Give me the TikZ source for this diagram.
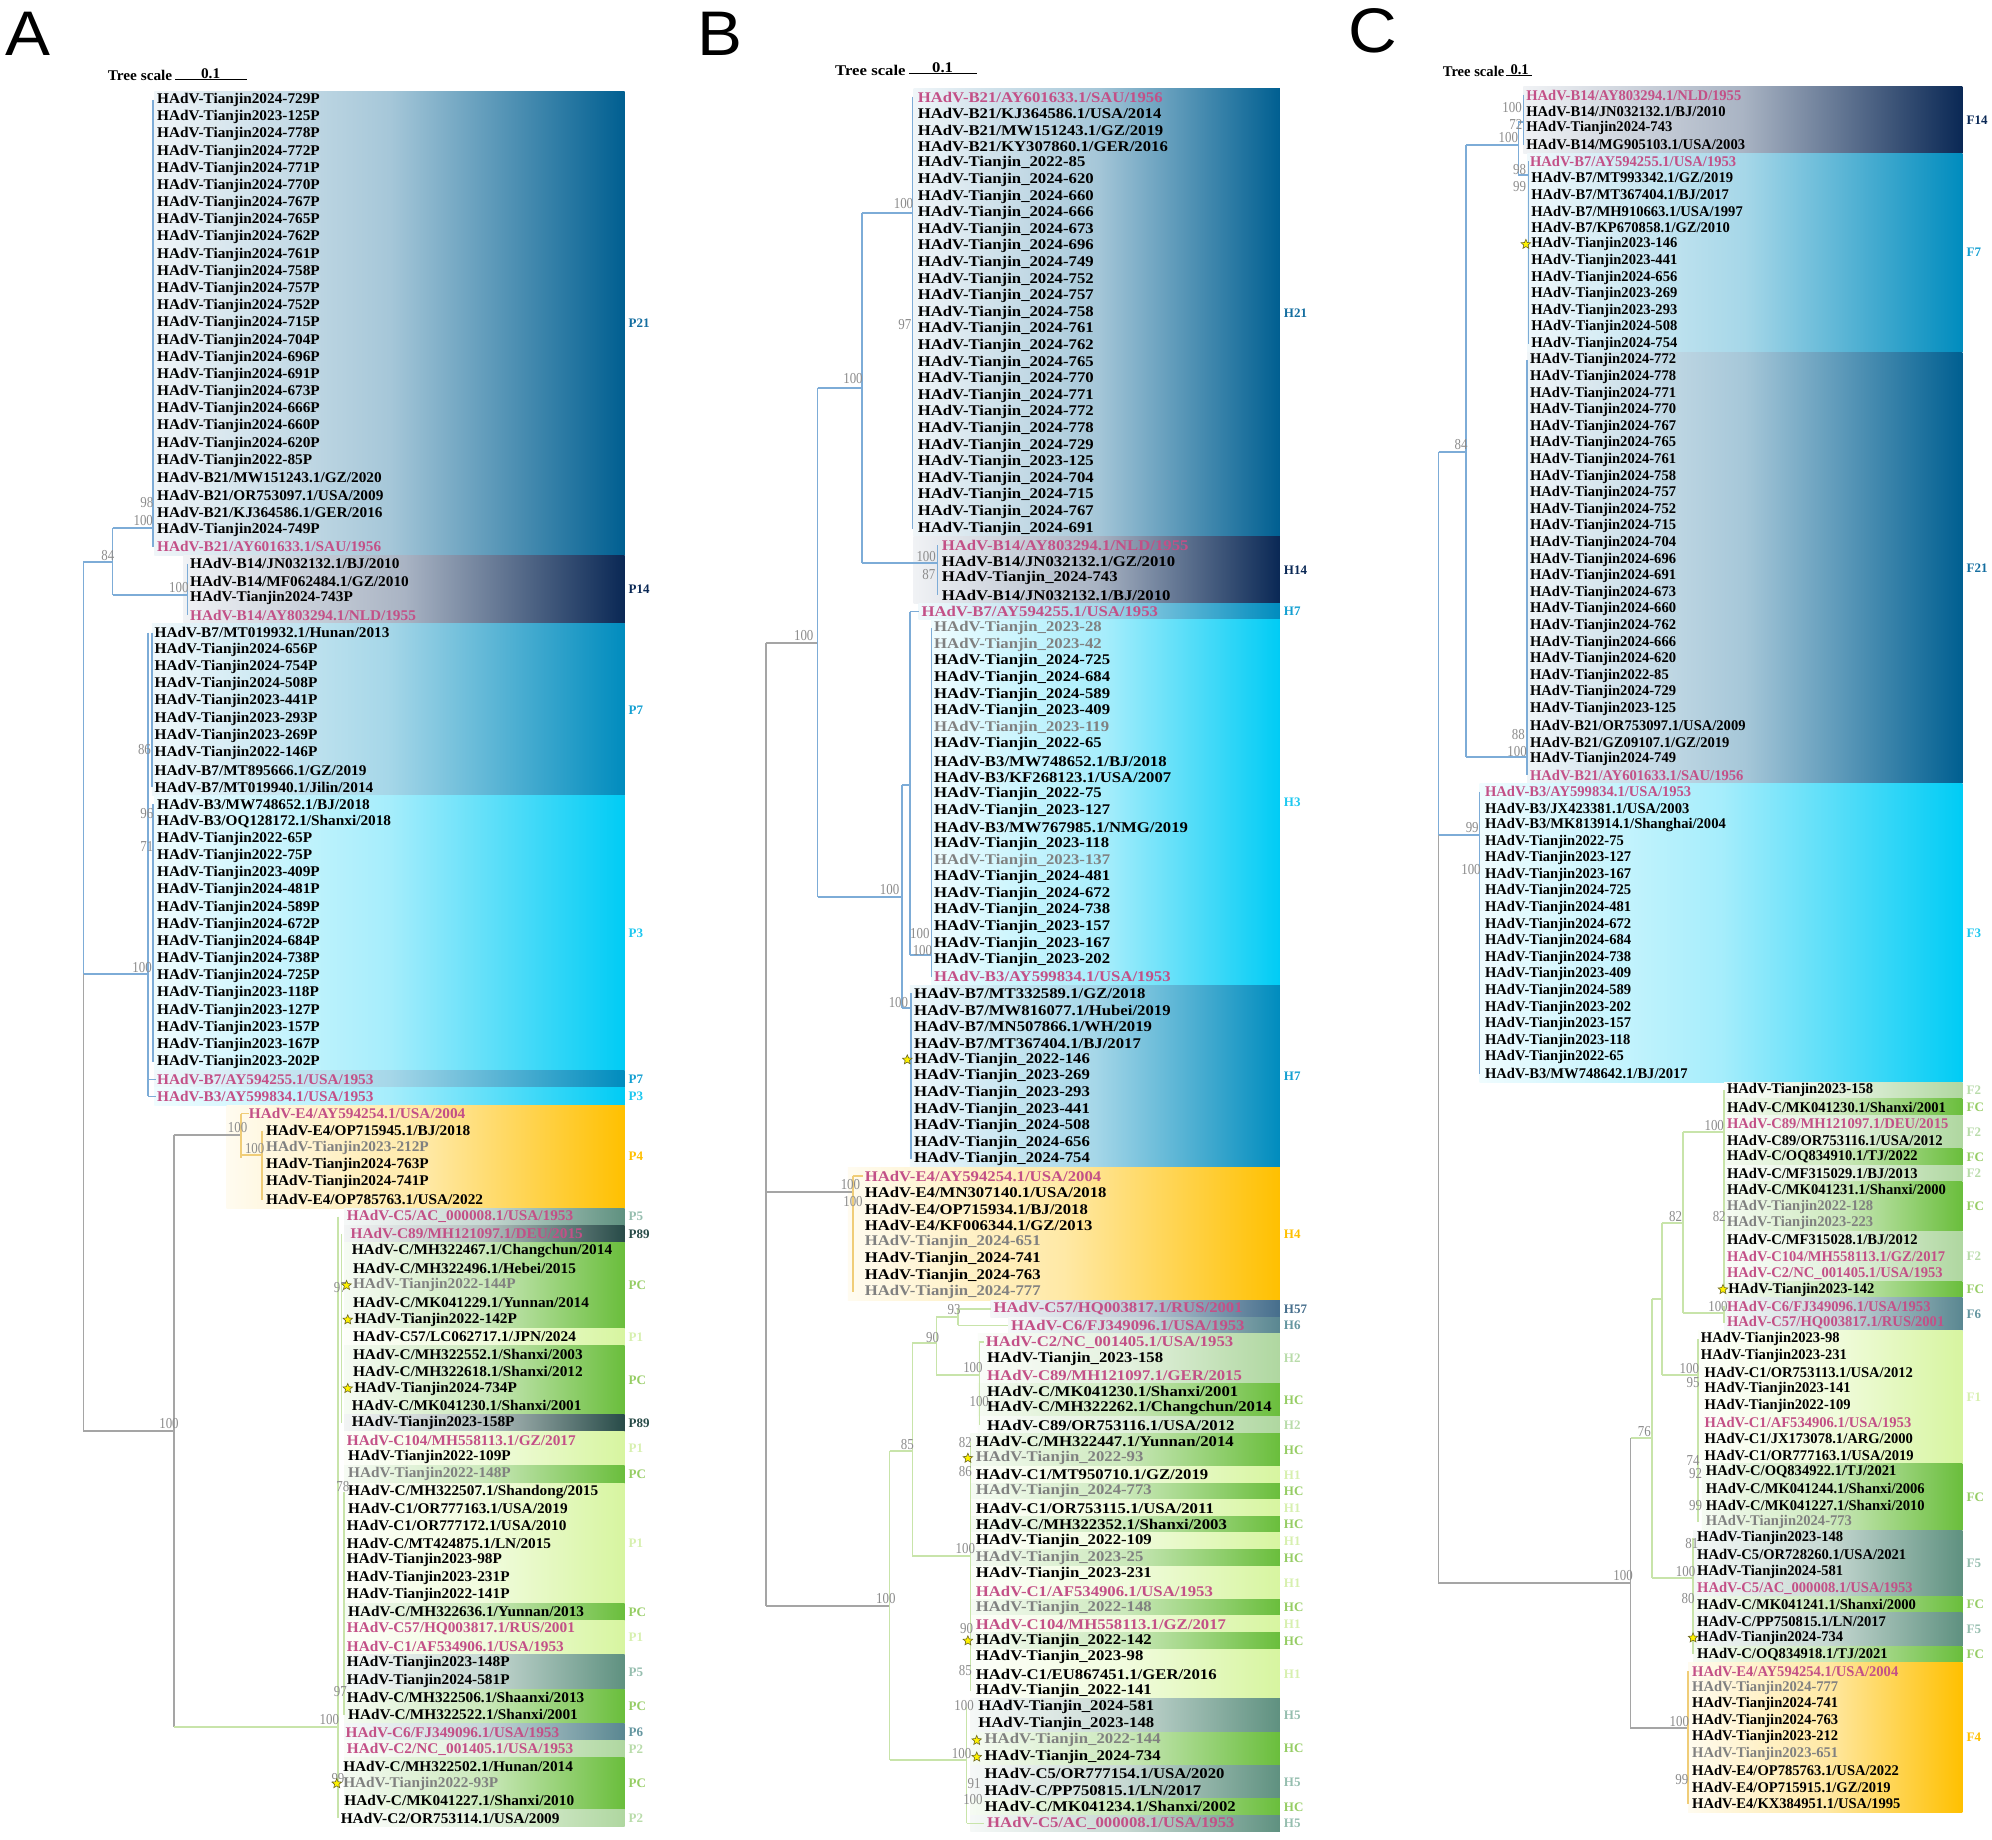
\documentclass[tikz,border=0pt]{standalone}
\usepackage{fontspec}
\setmainfont{Liberation Serif}
\newfontfamily\lfA{Liberation Serif}[FakeStretch=1.034]
\newfontfamily\lfB{Liberation Serif}[FakeStretch=1.13]
\newfontfamily\lfC{Liberation Serif}[FakeStretch=0.985]
\newfontfamily\bsfont{Liberation Serif}[FakeStretch=0.85]
\newfontfamily\grpfont{Liberation Serif}
\newfontfamily\panfont{Liberation Sans}[FakeStretch=1.07]
\usetikzlibrary{shapes.geometric}
\definecolor{cdk}{RGB}{0,95,145}
\definecolor{cnv}{RGB}{10,40,85}
\definecolor{cb7}{RGB}{0,140,190}
\definecolor{ccy}{RGB}{0,204,245}
\definecolor{cor}{RGB}{255,192,0}
\definecolor{cgr}{RGB}{106,190,60}
\definecolor{cpl}{RGB}{215,245,160}
\definecolor{cp5}{RGB}{95,145,128}
\definecolor{c89}{RGB}{40,75,72}
\definecolor{cp6}{RGB}{90,135,145}
\definecolor{cp2}{RGB}{175,215,160}
\definecolor{c57}{RGB}{70,110,140}
\definecolor{tdk}{RGB}{20,110,160}
\definecolor{tb7}{RGB}{20,160,210}
\definecolor{tcy}{RGB}{30,200,240}
\definecolor{tgr}{RGB}{150,205,100}
\definecolor{tpl}{RGB}{215,240,175}
\definecolor{tp5}{RGB}{150,190,175}
\definecolor{tp6}{RGB}{100,150,160}
\definecolor{tp2}{RGB}{185,220,170}
\definecolor{pkc}{RGB}{195,80,135}
\definecolor{gyc}{RGB}{128,128,128}
\definecolor{lblue}{RGB}{125,172,215}
\definecolor{lgray}{RGB}{165,165,165}
\definecolor{lgreen}{RGB}{200,228,170}
\definecolor{lorange}{RGB}{240,205,120}
\definecolor{bsgray}{RGB}{140,140,140}
\pgfmathdeclarefunction{ya}{1}{\pgfmathparse{100+17.18*(#1-1)}}
\pgfmathdeclarefunction{yb}{1}{\pgfmathparse{97+16.6*(#1-1)}}
\pgfmathdeclarefunction{yc}{1}{\pgfmathparse{95+16.59*(#1-1)}}
\newcommand\TA[4][]{\node[lbA,#1] (a#2) at (#3,{ya(#2)}) {#4};}
\newcommand\TB[4][]{\node[lbB,#1] (b#2) at (#3,{yb(#2)}) {#4};}
\newcommand\TC[4][]{\node[lbC,#1] (c#2) at (#3,{yc(#2)}) {#4};}
\newcommand\SA[6]{\shade[left color=#4!6,right color=#4,middle color=#4!35] (#1,{ya(#2)-8.59}) rectangle (510,{ya(#3)+8.59});
 \node[grp,text=#6] (gA#2) at (513,{(ya(#2)+ya(#3))/2}) {#5};}
\newcommand\SB[6]{\shade[left color=#4!6,right color=#4,middle color=#4!35] (#1,{yb(#2)-8.3}) rectangle (1155,{yb(#3)+8.3});
 \node[grp,text=#6] (gB#2) at (1158,{(yb(#2)+yb(#3))/2}) {#5};}
\newcommand\SC[6]{\shade[left color=#4!6,right color=#4,middle color=#4!35] (#1,{yc(#2)-8.3}) rectangle (1839,{yc(#3)+8.3});
 \node[grp,text=#6] (gC#2) at (1842,{(yc(#2)+yc(#3))/2}) {#5};}
\newcounter{bsn}
\newcommand\BS[3]{\stepcounter{bsn}\node[bs] (bs\thebsn) at (#1,#2) {#3};}
\newcounter{stn}
\newcommand\ST[2]{\stepcounter{stn}\node[starm] (st\thestn) at (#1,{#2}) {};}
\begin{document}
\begin{tikzpicture}[x=0.5pt,y=-0.5pt,
 lbA/.style={anchor=west,inner sep=0pt,font=\lfA\bfseries\fontsize{7.4}{8}\selectfont},
 lbB/.style={anchor=west,inner sep=0pt,font=\lfB\bfseries\fontsize{7.4}{8}\selectfont},
 lbC/.style={anchor=west,inner sep=0pt,font=\lfC\bfseries\fontsize{7.4}{8}\selectfont},
 rf/.style={text=pkc}, gt/.style={text=gyc},
 bs/.style={inner sep=0pt,text=bsgray,font=\bsfont\fontsize{7.6}{7.6}\selectfont},
 grp/.style={anchor=west,inner sep=0pt,font=\grpfont\bfseries\fontsize{6.5}{7}\selectfont},
 lnB/.style={line width=0.75pt,lblue}, lnG/.style={line width=0.75pt,lgray},
 lnN/.style={line width=0.75pt,lgreen}, lnO/.style={line width=0.75pt,lorange},
 starm/.style={star,star points=5,star point ratio=2.2,fill=yellow,draw=olive!70!black,line width=0.3pt,inner sep=0pt,minimum size=5pt},
 pan/.style={anchor=base west,inner sep=0pt,font=\panfont\fontsize{31.5}{32}\selectfont}]
\useasboundingbox (0,0) rectangle (1992,1840);
\fill[white] (0,0) rectangle (1992,1840);
% ======================= PANEL A
\begin{scope}[xscale=1.2245]
\SA{126}{1}{27}{cdk}{P21}{tdk}
\SA{150}{28}{31}{cnv}{P14}{cnv}
\SA{124}{32}{41}{cb7}{P7}{tb7}
\SA{126}{42}{57}{ccy}{P3}{tcy}
\SA{126}{58}{58}{cb7}{P7}{tb7}
\SA{126}{59}{59}{ccy}{P3}{tcy}
\SA{185}{60}{65}{cor}{P4}{cor}
\SA{281}{66}{66}{cp5}{P5}{tp5}
\SA{281}{67}{67}{c89}{P89}{c89}
\SA{281}{68}{72}{cgr}{PC}{tgr}
\SA{281}{73}{73}{cpl}{P1}{tpl}
\SA{281}{74}{77}{cgr}{PC}{tgr}
\SA{281}{78}{78}{c89}{P89}{c89}
\SA{281}{79}{80}{cpl}{P1}{tpl}
\SA{281}{81}{81}{cgr}{PC}{tgr}
\SA{281}{82}{88}{cpl}{P1}{tpl}
\SA{281}{89}{89}{cgr}{PC}{tgr}
\SA{281}{90}{91}{cpl}{P1}{tpl}
\SA{281}{92}{93}{cp5}{P5}{tp5}
\SA{281}{94}{95}{cgr}{PC}{tgr}
\SA{281}{96}{96}{cp6}{P6}{tp6}
\SA{281}{97}{97}{cp2}{P2}{tp2}
\SA{281}{98}{100}{cgr}{PC}{tgr}
\SA{281}{101}{101}{cp2}{P2}{tp2}
\draw[lnB] (68,562)--(68,974) (68,562)--(92,562) (92,528)--(92,595) (92,528)--(125,528) (125,{ya(1)})--(125,{ya(27)}) (92,595)--(153,595) (153,{ya(28)})--(153,{ya(31)});
\draw[lnB] (68,974)--(121,974) (121,{ya(32)})--(121,{ya(59)}) (121,{ya(58)})--(127,{ya(58)}) (121,{ya(59)})--(127,{ya(59)}) (124,{ya(32)})--(124,{ya(41)}) (125,{ya(42)})--(125,{ya(57)});
\draw[lnG] (68,974)--(68,1431)--(142,1431) (142,1135)--(142,1727) (142,1135)--(197,1135);
\draw[lnO] (197,{ya(60)})--(197,1158) (197,{ya(60)})--(203,{ya(60)}) (197,1155)--(214,1155) (214,{ya(61)})--(214,{ya(65)});
\draw[lnN] (142,1727)--(276,1727) (276,{ya(66)})--(276,{ya(101)}) (279,{ya(67)})--(279,{ya(78)}) (281,{ya(82)})--(281,{ya(95)});
\BS{88}{556}{84}\BS{120}{503}{98}\BS{117}{521}{100}\BS{146}{588}{100}\BS{118}{750}{86}
\BS{120}{814}{96}\BS{120}{846}{71}\BS{116}{968}{100}\BS{194}{1128}{100}\BS{208}{1149}{100}
\BS{278}{1288}{97}\BS{138}{1424}{100}\BS{280}{1487}{78}\BS{278}{1692}{97}\BS{269}{1720}{100}\BS{276}{1779}{99}
\ST{283}{ya(70)}\ST{284}{ya(72)}\ST{284}{ya(76)}\ST{275}{ya(99)}
\TA{1}{128}{HAdV-Tianjin2024-729P}
\TA{2}{128}{HAdV-Tianjin2023-125P}
\TA{3}{128}{HAdV-Tianjin2024-778P}
\TA{4}{128}{HAdV-Tianjin2024-772P}
\TA{5}{128}{HAdV-Tianjin2024-771P}
\TA{6}{128}{HAdV-Tianjin2024-770P}
\TA{7}{128}{HAdV-Tianjin2024-767P}
\TA{8}{128}{HAdV-Tianjin2024-765P}
\TA{9}{128}{HAdV-Tianjin2024-762P}
\TA{10}{128}{HAdV-Tianjin2024-761P}
\TA{11}{128}{HAdV-Tianjin2024-758P}
\TA{12}{128}{HAdV-Tianjin2024-757P}
\TA{13}{128}{HAdV-Tianjin2024-752P}
\TA{14}{128}{HAdV-Tianjin2024-715P}
\TA{15}{128}{HAdV-Tianjin2024-704P}
\TA{16}{128}{HAdV-Tianjin2024-696P}
\TA{17}{128}{HAdV-Tianjin2024-691P}
\TA{18}{128}{HAdV-Tianjin2024-673P}
\TA{19}{128}{HAdV-Tianjin2024-666P}
\TA{20}{128}{HAdV-Tianjin2024-660P}
\TA{21}{128}{HAdV-Tianjin2024-620P}
\TA{22}{128}{HAdV-Tianjin2022-85P}
\TA{23}{128}{HAdV-B21/MW151243.1/GZ/2020}
\TA{24}{128}{HAdV-B21/OR753097.1/USA/2009}
\TA{25}{128}{HAdV-B21/KJ364586.1/GER/2016}
\TA{26}{128}{HAdV-Tianjin2024-749P}
\TA[rf]{27}{128}{HAdV-B21/AY601633.1/SAU/1956}
\TA{28}{155}{HAdV-B14/JN032132.1/BJ/2010}
\TA{29}{155}{HAdV-B14/MF062484.1/GZ/2010}
\TA{30}{155}{HAdV-Tianjin2024-743P}
\TA[rf]{31}{155}{HAdV-B14/AY803294.1/NLD/1955}
\TA{32}{126}{HAdV-B7/MT019932.1/Hunan/2013}
\TA{33}{126}{HAdV-Tianjin2024-656P}
\TA{34}{126}{HAdV-Tianjin2024-754P}
\TA{35}{126}{HAdV-Tianjin2024-508P}
\TA{36}{126}{HAdV-Tianjin2023-441P}
\TA{37}{126}{HAdV-Tianjin2023-293P}
\TA{38}{126}{HAdV-Tianjin2023-269P}
\TA{39}{126}{HAdV-Tianjin2022-146P}
\TA{40}{126}{HAdV-B7/MT895666.1/GZ/2019}
\TA{41}{126}{HAdV-B7/MT019940.1/Jilin/2014}
\TA{42}{128}{HAdV-B3/MW748652.1/BJ/2018}
\TA{43}{128}{HAdV-B3/OQ128172.1/Shanxi/2018}
\TA{44}{128}{HAdV-Tianjin2022-65P}
\TA{45}{128}{HAdV-Tianjin2022-75P}
\TA{46}{128}{HAdV-Tianjin2023-409P}
\TA{47}{128}{HAdV-Tianjin2024-481P}
\TA{48}{128}{HAdV-Tianjin2024-589P}
\TA{49}{128}{HAdV-Tianjin2024-672P}
\TA{50}{128}{HAdV-Tianjin2024-684P}
\TA{51}{128}{HAdV-Tianjin2024-738P}
\TA{52}{128}{HAdV-Tianjin2024-725P}
\TA{53}{128}{HAdV-Tianjin2023-118P}
\TA{54}{128}{HAdV-Tianjin2023-127P}
\TA{55}{128}{HAdV-Tianjin2023-157P}
\TA{56}{128}{HAdV-Tianjin2023-167P}
\TA{57}{128}{HAdV-Tianjin2023-202P}
\TA[rf]{58}{128}{HAdV-B7/AY594255.1/USA/1953}
\TA[rf]{59}{128}{HAdV-B3/AY599834.1/USA/1953}
\TA[rf]{60}{203}{HAdV-E4/AY594254.1/USA/2004}
\TA{61}{217}{HAdV-E4/OP715945.1/BJ/2018}
\TA[gt]{62}{217}{HAdV-Tianjin2023-212P}
\TA{63}{217}{HAdV-Tianjin2024-763P}
\TA{64}{217}{HAdV-Tianjin2024-741P}
\TA{65}{217}{HAdV-E4/OP785763.1/USA/2022}
\TA[rf]{66}{283}{HAdV-C5/AC\_000008.1/USA/1953}
\TA[rf]{67}{286}{HAdV-C89/MH121097.1/DEU/2015}
\TA{68}{287}{HAdV-C/MH322467.1/Changchun/2014}
\TA{69}{288}{HAdV-C/MH322496.1/Hebei/2015}
\TA[gt]{70}{288}{HAdV-Tianjin2022-144P}
\TA{71}{288}{HAdV-C/MK041229.1/Yunnan/2014}
\TA{72}{289}{HAdV-Tianjin2022-142P}
\TA{73}{288}{HAdV-C57/LC062717.1/JPN/2024}
\TA{74}{288}{HAdV-C/MH322552.1/Shanxi/2003}
\TA{75}{288}{HAdV-C/MH322618.1/Shanxi/2012}
\TA{76}{289}{HAdV-Tianjin2024-734P}
\TA{77}{287}{HAdV-C/MK041230.1/Shanxi/2001}
\TA{78}{287}{HAdV-Tianjin2023-158P}
\TA[rf]{79}{283}{HAdV-C104/MH558113.1/GZ/2017}
\TA{80}{284}{HAdV-Tianjin2022-109P}
\TA[gt]{81}{284}{HAdV-Tianjin2022-148P}
\TA{82}{284}{HAdV-C/MH322507.1/Shandong/2015}
\TA{83}{284}{HAdV-C1/OR777163.1/USA/2019}
\TA{84}{283}{HAdV-C1/OR777172.1/USA/2010}
\TA{85}{283}{HAdV-C/MT424875.1/LN/2015}
\TA{86}{283}{HAdV-Tianjin2023-98P}
\TA{87}{283}{HAdV-Tianjin2023-231P}
\TA{88}{283}{HAdV-Tianjin2022-141P}
\TA{89}{284}{HAdV-C/MH322636.1/Yunnan/2013}
\TA[rf]{90}{283}{HAdV-C57/HQ003817.1/RUS/2001}
\TA[rf]{91}{283}{HAdV-C1/AF534906.1/USA/1953}
\TA{92}{283}{HAdV-Tianjin2023-148P}
\TA{93}{283}{HAdV-Tianjin2024-581P}
\TA{94}{283}{HAdV-C/MH322506.1/Shaanxi/2013}
\TA{95}{284}{HAdV-C/MH322522.1/Shanxi/2001}
\TA[rf]{96}{282}{HAdV-C6/FJ349096.1/USA/1953}
\TA[rf]{97}{283}{HAdV-C2/NC\_001405.1/USA/1953}
\TA{98}{280}{HAdV-C/MH322502.1/Hunan/2014}
\TA[gt]{99}{280}{HAdV-Tianjin2022-93P}
\TA{100}{281}{HAdV-C/MK041227.1/Shanxi/2010}
\TA{101}{278}{HAdV-C2/OR753114.1/USA/2009}
\node[lbA,anchor=east] (tsA) at (141,75) {Tree scale};
\node[lbA,anchor=south] (tsA1) at (172,79) {0.1};
\draw[black,line width=0.5pt] (tsA.east)++(2,5) coordinate (sA0) -- (202,80) coordinate (sA1);
\end{scope}
% ======================= PANEL B
\begin{scope}[xshift=-89.28pt,xscale=1.2626]
\SB{865}{1}{27}{cdk}{H21}{tdk}
\SB{865}{28}{31}{cnv}{H14}{cnv}
\SB{869}{32}{32}{cb7}{H7}{tb7}
\SB{879}{33}{54}{ccy}{H3}{tcy}
\SB{862}{55}{65}{cb7}{H7}{tb7}
\SB{813}{66}{73}{cor}{H4}{cor}
\SB{926}{74}{74}{c57}{H57}{c57}
\SB{940}{75}{75}{cp6}{H6}{tp6}
\SB{916}{76}{78}{cp2}{H2}{tp2}
\SB{916}{79}{80}{cgr}{HC}{tgr}
\SB{916}{81}{81}{cp2}{H2}{tp2}
\SB{910}{82}{83}{cgr}{HC}{tgr}
\SB{910}{84}{84}{cpl}{H1}{tpl}
\SB{910}{85}{85}{cgr}{HC}{tgr}
\SB{910}{86}{86}{cpl}{H1}{tpl}
\SB{910}{87}{87}{cgr}{HC}{tgr}
\SB{910}{88}{88}{cpl}{H1}{tpl}
\SB{910}{89}{89}{cgr}{HC}{tgr}
\SB{910}{90}{91}{cpl}{H1}{tpl}
\SB{910}{92}{92}{cgr}{HC}{tgr}
\SB{910}{93}{93}{cpl}{H1}{tpl}
\SB{910}{94}{94}{cgr}{HC}{tgr}
\SB{910}{95}{97}{cpl}{H1}{tpl}
\SB{910}{98}{99}{cp5}{H5}{tp5}
\SB{910}{100}{101}{cgr}{HC}{tgr}
\SB{910}{102}{103}{cp5}{H5}{tp5}
\SB{910}{104}{104}{cgr}{HC}{tgr}
\SB{910}{105}{105}{cp5}{H5}{tp5}
\draw[lnG] (748,643)--(748,1606) (748,643)--(789,643) (748,1192)--(817,1192) (748,1606)--(846,1606);
\draw[lnB] (789,388)--(789,897) (789,388)--(824,388) (824,213)--(824,563) (824,213)--(864,213) (864,{yb(1)})--(864,{yb(27)}) (824,563)--(884,563) (884,{yb(28)})--(884,{yb(31)}) (789,897)--(856,897) (856,785)--(856,1008) (856,785)--(862,785) (862,{yb(32)})--(862,955) (862,{yb(32)})--(869,{yb(32)}) (862,955)--(879,955) (879,{yb(33)})--(879,{yb(54)}) (856,1008)--(863,1008) (863,{yb(55)})--(863,{yb(65)});
\draw[lnO] (817,{yb(66)})--(817,{yb(73)}) (817,{yb(66)})--(825,{yb(66)});
\draw[lnN] (846,1451)--(846,1760) (846,1451)--(864,1451) (864,1343)--(864,1556) (864,1343)--(883,1343) (883,1317)--(883,1375) (883,1317)--(900,1317) (900,{yb(74)})--(900,{yb(75)}) (900,{yb(74)})--(926,{yb(74)}) (900,{yb(75)})--(940,{yb(75)}) (883,1375)--(917,1375) (917,{yb(76)})--(917,{yb(81)}) (917,{yb(76)})--(921,{yb(76)}) (864,1556)--(910,1556) (910,{yb(82)})--(910,{yb(97)}) (846,1760)--(907,1760) (907,{yb(98)})--(907,{yb(105)}) (907,{yb(105)})--(921,{yb(105)});
\BS{857}{204}{100}\BS{858}{325}{97}\BS{817}{379}{100}\BS{778}{636}{100}\BS{875}{557}{100}
\BS{877}{575}{87}\BS{846}{890}{100}\BS{870}{934}{100}\BS{872}{951}{100}\BS{853}{1003}{100}
\BS{815}{1185}{100}\BS{817}{1202}{100}\BS{897}{1310}{93}\BS{880}{1338}{90}\BS{912}{1368}{100}
\BS{917}{1402}{100}\BS{860}{1445}{85}\BS{906}{1443}{82}\BS{906}{1472}{86}\BS{906}{1549}{100}
\BS{843}{1599}{100}\BS{907}{1629}{90}\BS{906}{1671}{85}\BS{905}{1706}{100}\BS{903}{1754}{100}
\BS{913}{1784}{91}\BS{912}{1800}{100}
\ST{860}{yb(59)}\ST{908}{yb(83)}\ST{908}{yb(94)}\ST{915}{yb(100)}\ST{915}{yb(101)}
\TB[rf]{1}{868}{HAdV-B21/AY601633.1/SAU/1956}
\TB{2}{868}{HAdV-B21/KJ364586.1/USA/2014}
\TB{3}{868}{HAdV-B21/MW151243.1/GZ/2019}
\TB{4}{868}{HAdV-B21/KY307860.1/GER/2016}
\TB{5}{868}{HAdV-Tianjin\_2022-85}
\TB{6}{868}{HAdV-Tianjin\_2024-620}
\TB{7}{868}{HAdV-Tianjin\_2024-660}
\TB{8}{868}{HAdV-Tianjin\_2024-666}
\TB{9}{868}{HAdV-Tianjin\_2024-673}
\TB{10}{868}{HAdV-Tianjin\_2024-696}
\TB{11}{868}{HAdV-Tianjin\_2024-749}
\TB{12}{868}{HAdV-Tianjin\_2024-752}
\TB{13}{868}{HAdV-Tianjin\_2024-757}
\TB{14}{868}{HAdV-Tianjin\_2024-758}
\TB{15}{868}{HAdV-Tianjin\_2024-761}
\TB{16}{868}{HAdV-Tianjin\_2024-762}
\TB{17}{868}{HAdV-Tianjin\_2024-765}
\TB{18}{868}{HAdV-Tianjin\_2024-770}
\TB{19}{868}{HAdV-Tianjin\_2024-771}
\TB{20}{868}{HAdV-Tianjin\_2024-772}
\TB{21}{868}{HAdV-Tianjin\_2024-778}
\TB{22}{868}{HAdV-Tianjin\_2024-729}
\TB{23}{868}{HAdV-Tianjin\_2023-125}
\TB{24}{868}{HAdV-Tianjin\_2024-704}
\TB{25}{868}{HAdV-Tianjin\_2024-715}
\TB{26}{868}{HAdV-Tianjin\_2024-767}
\TB{27}{868}{HAdV-Tianjin\_2024-691}
\TB[rf]{28}{887}{HAdV-B14/AY803294.1/NLD/1955}
\TB{29}{887}{HAdV-B14/JN032132.1/GZ/2010}
\TB{30}{887}{HAdV-Tianjin\_2024-743}
\TB{31}{887}{HAdV-B14/JN032132.1/BJ/2010}
\TB[rf]{32}{871}{HAdV-B7/AY594255.1/USA/1953}
\TB[gt]{33}{881}{HAdV-Tianjin\_2023-28}
\TB[gt]{34}{881}{HAdV-Tianjin\_2023-42}
\TB{35}{881}{HAdV-Tianjin\_2024-725}
\TB{36}{881}{HAdV-Tianjin\_2024-684}
\TB{37}{881}{HAdV-Tianjin\_2024-589}
\TB{38}{881}{HAdV-Tianjin\_2023-409}
\TB[gt]{39}{881}{HAdV-Tianjin\_2023-119}
\TB{40}{881}{HAdV-Tianjin\_2022-65}
\TB{41}{881}{HAdV-B3/MW748652.1/BJ/2018}
\TB{42}{881}{HAdV-B3/KF268123.1/USA/2007}
\TB{43}{881}{HAdV-Tianjin\_2022-75}
\TB{44}{881}{HAdV-Tianjin\_2023-127}
\TB{45}{881}{HAdV-B3/MW767985.1/NMG/2019}
\TB{46}{881}{HAdV-Tianjin\_2023-118}
\TB[gt]{47}{881}{HAdV-Tianjin\_2023-137}
\TB{48}{881}{HAdV-Tianjin\_2024-481}
\TB{49}{881}{HAdV-Tianjin\_2024-672}
\TB{50}{881}{HAdV-Tianjin\_2024-738}
\TB{51}{881}{HAdV-Tianjin\_2023-157}
\TB{52}{881}{HAdV-Tianjin\_2023-167}
\TB{53}{881}{HAdV-Tianjin\_2023-202}
\TB[rf]{54}{881}{HAdV-B3/AY599834.1/USA/1953}
\TB{55}{865}{HAdV-B7/MT332589.1/GZ/2018}
\TB{56}{865}{HAdV-B7/MW816077.1/Hubei/2019}
\TB{57}{865}{HAdV-B7/MN507866.1/WH/2019}
\TB{58}{865}{HAdV-B7/MT367404.1/BJ/2017}
\TB{59}{865}{HAdV-Tianjin\_2022-146}
\TB{60}{865}{HAdV-Tianjin\_2023-269}
\TB{61}{865}{HAdV-Tianjin\_2023-293}
\TB{62}{865}{HAdV-Tianjin\_2023-441}
\TB{63}{865}{HAdV-Tianjin\_2024-508}
\TB{64}{865}{HAdV-Tianjin\_2024-656}
\TB{65}{865}{HAdV-Tianjin\_2024-754}
\TB[rf]{66}{826}{HAdV-E4/AY594254.1/USA/2004}
\TB{67}{826}{HAdV-E4/MN307140.1/USA/2018}
\TB{68}{826}{HAdV-E4/OP715934.1/BJ/2018}
\TB{69}{826}{HAdV-E4/KF006344.1/GZ/2013}
\TB[gt]{70}{826}{HAdV-Tianjin\_2024-651}
\TB{71}{826}{HAdV-Tianjin\_2024-741}
\TB{72}{826}{HAdV-Tianjin\_2024-763}
\TB[gt]{73}{826}{HAdV-Tianjin\_2024-777}
\TB[rf]{74}{928}{HAdV-C57/HQ003817.1/RUS/2001}
\TB[rf]{75}{942}{HAdV-C6/FJ349096.1/USA/1953}
\TB[rf]{76}{922}{HAdV-C2/NC\_001405.1/USA/1953}
\TB{77}{923}{HAdV-Tianjin\_2023-158}
\TB[rf]{78}{923}{HAdV-C89/MH121097.1/GER/2015}
\TB{79}{923}{HAdV-C/MK041230.1/Shanxi/2001}
\TB{80}{923}{HAdV-C/MH322262.1/Changchun/2014}
\TB{81}{923}{HAdV-C89/OR753116.1/USA/2012}
\TB{82}{914}{HAdV-C/MH322447.1/Yunnan/2014}
\TB[gt]{83}{914}{HAdV-Tianjin\_2022-93}
\TB{84}{914}{HAdV-C1/MT950710.1/GZ/2019}
\TB[gt]{85}{914}{HAdV-Tianjin\_2024-773}
\TB{86}{914}{HAdV-C1/OR753115.1/USA/2011}
\TB{87}{914}{HAdV-C/MH322352.1/Shanxi/2003}
\TB{88}{914}{HAdV-Tianjin\_2022-109}
\TB[gt]{89}{914}{HAdV-Tianjin\_2023-25}
\TB{90}{914}{HAdV-Tianjin\_2023-231}
\TB[rf]{91}{914}{HAdV-C1/AF534906.1/USA/1953}
\TB[gt]{92}{914}{HAdV-Tianjin\_2022-148}
\TB[rf]{93}{914}{HAdV-C104/MH558113.1/GZ/2017}
\TB{94}{914}{HAdV-Tianjin\_2022-142}
\TB{95}{914}{HAdV-Tianjin\_2023-98}
\TB{96}{914}{HAdV-C1/EU867451.1/GER/2016}
\TB{97}{914}{HAdV-Tianjin\_2022-141}
\TB{98}{916}{HAdV-Tianjin\_2024-581}
\TB{99}{916}{HAdV-Tianjin\_2023-148}
\TB[gt]{100}{921}{HAdV-Tianjin\_2022-144}
\TB{101}{921}{HAdV-Tianjin\_2024-734}
\TB{102}{921}{HAdV-C5/OR777154.1/USA/2020}
\TB{103}{921}{HAdV-C/PP750815.1/LN/2017}
\TB{104}{921}{HAdV-C/MK041234.1/Shanxi/2002}
\TB[rf]{105}{923}{HAdV-C5/AC\_000008.1/USA/1953}
\node[lbB,anchor=east] (tsB) at (859,70) {Tree scale};
\node[lbB,anchor=south] (tsB1) at (888,73) {0.1};
\draw[black,line width=0.5pt] (tsB.east)++(2,4) coordinate (sB0) -- (915,74) coordinate (sB1);
\end{scope}
% ======================= PANEL C
\begin{scope}[xshift=-165.76pt,xscale=1.2474]
\SC{1487}{1}{4}{cnv}{F14}{cnv}
\SC{1490}{5}{16}{cb7}{F7}{tb7}
\SC{1490}{17}{42}{cdk}{F21}{tdk}
\SC{1452}{43}{60}{ccy}{F3}{tcy}
\SC{1648}{61}{61}{cp2}{F2}{tp2}
\SC{1648}{62}{62}{cgr}{FC}{tgr}
\SC{1648}{63}{64}{cp2}{F2}{tp2}
\SC{1648}{65}{65}{cgr}{FC}{tgr}
\SC{1648}{66}{66}{cp2}{F2}{tp2}
\SC{1648}{67}{69}{cgr}{FC}{tgr}
\SC{1648}{70}{72}{cp2}{F2}{tp2}
\SC{1648}{73}{73}{cgr}{FC}{tgr}
\SC{1648}{74}{75}{cp6}{F6}{tp6}
\SC{1627}{76}{83}{cpl}{F1}{tpl}
\SC{1630}{84}{87}{cgr}{FC}{tgr}
\SC{1623}{88}{91}{cp5}{F5}{tp5}
\SC{1623}{92}{92}{cgr}{FC}{tgr}
\SC{1623}{93}{94}{cp5}{F5}{tp5}
\SC{1623}{95}{95}{cgr}{FC}{tgr}
\SC{1619}{96}{104}{cor}{F4}{cor}
\draw[lnB] (1419,452)--(1419,835) (1419,452)--(1441,452) (1441,145)--(1441,757) (1441,145)--(1483,145) (1483,122)--(1483,175) (1483,122)--(1487,122) (1487,{yc(1)})--(1487,{yc(4)}) (1483,175)--(1491,175) (1491,{yc(5)})--(1491,{yc(16)}) (1441,757)--(1490,757) (1490,{yc(17)})--(1490,{yc(42)}) (1419,835)--(1452,835) (1452,{yc(43)})--(1452,{yc(60)});
\draw[lnG] (1419,835)--(1419,1583)--(1573,1583) (1573,1438)--(1573,1728)--(1619,1728);
\draw[lnN] (1573,1438)--(1590,1438) (1590,1299)--(1590,1578) (1590,1299)--(1598,1299) (1598,1223)--(1598,1375) (1598,1223)--(1615,1223) (1615,1132)--(1615,1313) (1615,1132)--(1648,1132) (1648,{yc(61)})--(1648,{yc(73)}) (1615,1313)--(1648,1313) (1648,{yc(74)})--(1648,{yc(75)}) (1598,1375)--(1627,1375) (1627,{yc(76)})--(1627,{yc(87)}) (1590,1578)--(1623,1578) (1623,{yc(88)})--(1623,{yc(95)});
\draw[lnO] (1619,{yc(96)})--(1619,{yc(104)});
\BS{1478}{108}{100}\BS{1481}{124}{72}\BS{1475}{138}{100}\BS{1484}{170}{98}\BS{1484}{187}{99}
\BS{1437}{445}{84}\BS{1483}{735}{88}\BS{1482}{752}{100}\BS{1446}{828}{99}\BS{1445}{870}{100}
\BS{1640}{1126}{100}\BS{1609}{1217}{82}\BS{1644}{1217}{82}\BS{1643}{1307}{100}\BS{1620}{1369}{100}
\BS{1623}{1383}{95}\BS{1584}{1432}{76}\BS{1623}{1460}{74}\BS{1625}{1474}{92}\BS{1625}{1506}{99}
\BS{1622}{1544}{81}\BS{1617}{1572}{100}\BS{1567}{1576}{100}\BS{1619}{1599}{80}\BS{1612}{1722}{100}\BS{1614}{1780}{99}
\ST{1489}{yc(10)}\ST{1647}{yc(73)}\ST{1623}{yc(94)}
\TC[rf]{1}{1489}{HAdV-B14/AY803294.1/NLD/1955}
\TC{2}{1489}{HAdV-B14/JN032132.1/BJ/2010}
\TC{3}{1489}{HAdV-Tianjin2024-743}
\TC{4}{1489}{HAdV-B14/MG905103.1/USA/2003}
\TC[rf]{5}{1492}{HAdV-B7/AY594255.1/USA/1953}
\TC{6}{1493}{HAdV-B7/MT993342.1/GZ/2019}
\TC{7}{1493}{HAdV-B7/MT367404.1/BJ/2017}
\TC{8}{1493}{HAdV-B7/MH910663.1/USA/1997}
\TC{9}{1493}{HAdV-B7/KP670858.1/GZ/2010}
\TC{10}{1493}{HAdV-Tianjin2023-146}
\TC{11}{1493}{HAdV-Tianjin2023-441}
\TC{12}{1493}{HAdV-Tianjin2024-656}
\TC{13}{1493}{HAdV-Tianjin2023-269}
\TC{14}{1493}{HAdV-Tianjin2023-293}
\TC{15}{1493}{HAdV-Tianjin2024-508}
\TC{16}{1493}{HAdV-Tianjin2024-754}
\TC{17}{1492}{HAdV-Tianjin2024-772}
\TC{18}{1492}{HAdV-Tianjin2024-778}
\TC{19}{1492}{HAdV-Tianjin2024-771}
\TC{20}{1492}{HAdV-Tianjin2024-770}
\TC{21}{1492}{HAdV-Tianjin2024-767}
\TC{22}{1492}{HAdV-Tianjin2024-765}
\TC{23}{1492}{HAdV-Tianjin2024-761}
\TC{24}{1492}{HAdV-Tianjin2024-758}
\TC{25}{1492}{HAdV-Tianjin2024-757}
\TC{26}{1492}{HAdV-Tianjin2024-752}
\TC{27}{1492}{HAdV-Tianjin2024-715}
\TC{28}{1492}{HAdV-Tianjin2024-704}
\TC{29}{1492}{HAdV-Tianjin2024-696}
\TC{30}{1492}{HAdV-Tianjin2024-691}
\TC{31}{1492}{HAdV-Tianjin2024-673}
\TC{32}{1492}{HAdV-Tianjin2024-660}
\TC{33}{1492}{HAdV-Tianjin2024-762}
\TC{34}{1492}{HAdV-Tianjin2024-666}
\TC{35}{1492}{HAdV-Tianjin2024-620}
\TC{36}{1492}{HAdV-Tianjin2022-85}
\TC{37}{1492}{HAdV-Tianjin2024-729}
\TC{38}{1492}{HAdV-Tianjin2023-125}
\TC{39}{1492}{HAdV-B21/OR753097.1/USA/2009}
\TC{40}{1492}{HAdV-B21/GZ09107.1/GZ/2019}
\TC{41}{1492}{HAdV-Tianjin2024-749}
\TC[rf]{42}{1492}{HAdV-B21/AY601633.1/SAU/1956}
\TC[rf]{43}{1456}{HAdV-B3/AY599834.1/USA/1953}
\TC{44}{1456}{HAdV-B3/JX423381.1/USA/2003}
\TC{45}{1456}{HAdV-B3/MK813914.1/Shanghai/2004}
\TC{46}{1456}{HAdV-Tianjin2022-75}
\TC{47}{1456}{HAdV-Tianjin2023-127}
\TC{48}{1456}{HAdV-Tianjin2023-167}
\TC{49}{1456}{HAdV-Tianjin2024-725}
\TC{50}{1456}{HAdV-Tianjin2024-481}
\TC{51}{1456}{HAdV-Tianjin2024-672}
\TC{52}{1456}{HAdV-Tianjin2024-684}
\TC{53}{1456}{HAdV-Tianjin2024-738}
\TC{54}{1456}{HAdV-Tianjin2023-409}
\TC{55}{1456}{HAdV-Tianjin2024-589}
\TC{56}{1456}{HAdV-Tianjin2023-202}
\TC{57}{1456}{HAdV-Tianjin2023-157}
\TC{58}{1456}{HAdV-Tianjin2023-118}
\TC{59}{1456}{HAdV-Tianjin2022-65}
\TC{60}{1456}{HAdV-B3/MW748642.1/BJ/2017}
\TC{61}{1650}{HAdV-Tianjin2023-158}
\TC{62}{1650}{HAdV-C/MK041230.1/Shanxi/2001}
\TC[rf]{63}{1650}{HAdV-C89/MH121097.1/DEU/2015}
\TC{64}{1650}{HAdV-C89/OR753116.1/USA/2012}
\TC{65}{1650}{HAdV-C/OQ834910.1/TJ/2022}
\TC{66}{1650}{HAdV-C/MF315029.1/BJ/2013}
\TC{67}{1650}{HAdV-C/MK041231.1/Shanxi/2000}
\TC[gt]{68}{1650}{HAdV-Tianjin2022-128}
\TC[gt]{69}{1650}{HAdV-Tianjin2023-223}
\TC{70}{1650}{HAdV-C/MF315028.1/BJ/2012}
\TC[rf]{71}{1650}{HAdV-C104/MH558113.1/GZ/2017}
\TC[rf]{72}{1650}{HAdV-C2/NC\_001405.1/USA/1953}
\TC{73}{1651}{HAdV-Tianjin2023-142}
\TC[rf]{74}{1650}{HAdV-C6/FJ349096.1/USA/1953}
\TC[rf]{75}{1650}{HAdV-C57/HQ003817.1/RUS/2001}
\TC{76}{1629}{HAdV-Tianjin2023-98}
\TC{77}{1629}{HAdV-Tianjin2023-231}
\TC{78}{1632}{HAdV-C1/OR753113.1/USA/2012}
\TC{79}{1632}{HAdV-Tianjin2023-141}
\TC{80}{1632}{HAdV-Tianjin2022-109}
\TC[rf]{81}{1632}{HAdV-C1/AF534906.1/USA/1953}
\TC{82}{1632}{HAdV-C1/JX173078.1/ARG/2000}
\TC{83}{1632}{HAdV-C1/OR777163.1/USA/2019}
\TC{84}{1633}{HAdV-C/OQ834922.1/TJ/2021}
\TC{85}{1633}{HAdV-C/MK041244.1/Shanxi/2006}
\TC{86}{1633}{HAdV-C/MK041227.1/Shanxi/2010}
\TC[gt]{87}{1633}{HAdV-Tianjin2024-773}
\TC{88}{1626}{HAdV-Tianjin2023-148}
\TC{89}{1626}{HAdV-C5/OR728260.1/USA/2021}
\TC{90}{1626}{HAdV-Tianjin2024-581}
\TC[rf]{91}{1626}{HAdV-C5/AC\_000008.1/USA/1953}
\TC{92}{1626}{HAdV-C/MK041241.1/Shanxi/2000}
\TC{93}{1626}{HAdV-C/PP750815.1/LN/2017}
\TC{94}{1626}{HAdV-Tianjin2024-734}
\TC{95}{1626}{HAdV-C/OQ834918.1/TJ/2021}
\TC[rf]{96}{1622}{HAdV-E4/AY594254.1/USA/2004}
\TC[gt]{97}{1622}{HAdV-Tianjin2024-777}
\TC{98}{1622}{HAdV-Tianjin2024-741}
\TC{99}{1622}{HAdV-Tianjin2024-763}
\TC{100}{1622}{HAdV-Tianjin2023-212}
\TC[gt]{101}{1622}{HAdV-Tianjin2023-651}
\TC{102}{1622}{HAdV-E4/OP785763.1/USA/2022}
\TC{103}{1622}{HAdV-E4/OP715915.1/GZ/2019}
\TC{104}{1622}{HAdV-E4/KX384951.1/USA/1995}
\node[lbC,anchor=east] (tsC) at (1472,71) {Tree scale};
\node[lbC,anchor=south] (tsC1) at (1484,75) {0.1};
\draw[black,line width=0.5pt] (tsC.east)++(1,5) coordinate (sC0) -- (1494,76) coordinate (sC1);
\end{scope}
% ======================= panel letters
\node[pan] (pA) at (5,56) {A};
\node[pan] (pB) at (697,56) {B};
\node[pan] (pC) at (1348,53) {C};
\end{tikzpicture}
\end{document}
